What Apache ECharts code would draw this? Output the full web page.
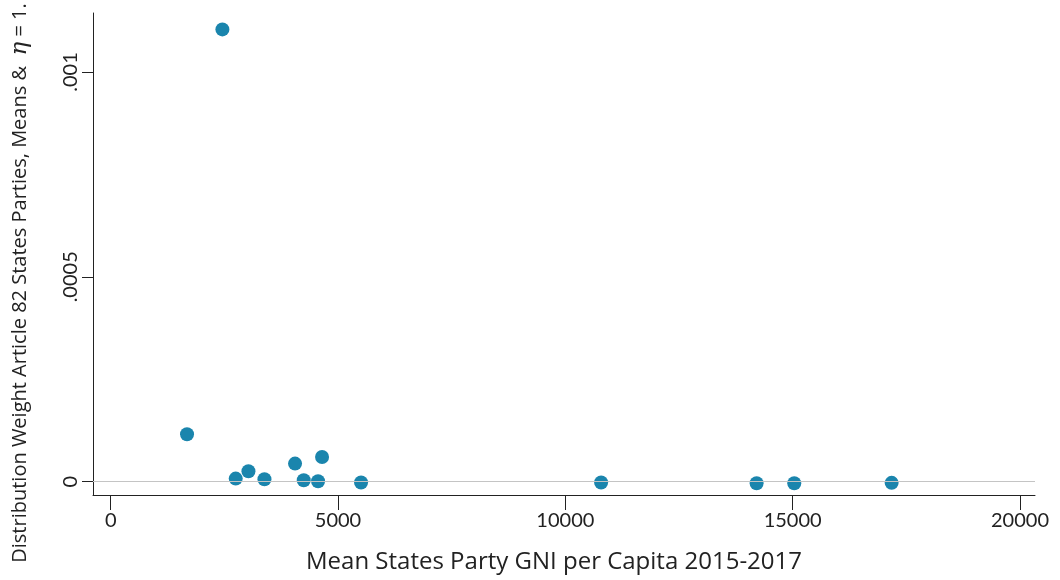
<!DOCTYPE html>
<html>
<head>
<meta charset="utf-8">
<script src="https://cdn.jsdelivr.net/npm/echarts@6/dist/echarts.min.js"></script>
<style>
html,body{margin:0;padding:0;background:#fff;}
#chart{width:1060px;height:580px;}
</style>
</head>
<body>
<div id="chart"></div>
<script>
// Mean States Party GNI per capita 2015-2017
const gniPerCapita = [2457, 1679, 2750, 3030, 3382, 4055, 4246, 4561, 4649, 5507, 10787, 14207, 15035, 17177];
// Distribution weight (Article 82 States Parties, means & eta = 1)
const distWeight = [0.001104, 0.0001156, 0.0000073, 0.0000252, 0.0000056, 0.000044, 0.0000032, 0.0000007, 0.0000601, -0.000002, -0.000002, -0.000004, -0.000004, -0.000003];
const xTicks = [0, 5000, 10000, 15000, 20000];
const yTicks = [0, 0.0005, 0.001];
const yTickLabels = ['0', '.0005', '.001'];
const xTitle = 'Mean States Party GNI per Capita 2015-2017';
const yTitle = 'Distribution Weight Article 82 States Parties, Means &  ';

const FONT = 'Lato, "Open Sans", "DejaVu Sans", sans-serif';
const TFONT = '"Open Sans", Lato, "DejaVu Sans", sans-serif';
const chart = echarts.init(document.getElementById('chart'), null, {renderer: 'canvas'});
const points = gniPerCapita.map((x, i) => [x, distWeight[i]]);

chart.setOption({
  animation: false,
  backgroundColor: '#fff',
  grid: {left: 93, right: 25, top: 13, bottom: 85, containLabel: false},
  xAxis: {
    type: 'value',
    min: -389, max: 20330,
    axisLine: {show: true, onZero: false, lineStyle: {color: '#222', width: 1}},
    axisTick: {show: true, length: 15, customValues: xTicks, lineStyle: {color: '#222', width: 1}},
    axisLabel: {show: true, customValues: xTicks, margin: 16, color: '#222', fontSize: 20, fontFamily: FONT,
      formatter: v => String(v)},
    splitLine: {show: false}
  },
  yAxis: {
    type: 'value',
    min: -0.0000327, max: 0.0011441,
    axisLine: {show: true, onZero: false, lineStyle: {color: '#222', width: 1}},
    axisTick: {show: true, length: 11, customValues: yTicks, lineStyle: {color: '#222', width: 1}},
    axisLabel: {show: true, customValues: yTicks, rotate: 90, margin: 12, color: '#222', fontSize: 20, fontFamily: FONT,
      formatter: v => { const i = yTicks.findIndex(t => Math.abs(t - v) < 1e-9); return i >= 0 ? yTickLabels[i] : ''; }},
    splitLine: {show: false}
  },
  series: [
    {
      type: 'scatter',
      data: [],
      z: 1,
      silent: true,
      markLine: {
        silent: true,
        symbol: 'none',
        label: {show: false},
        lineStyle: {color: '#c4c4c4', width: 1.2, type: 'solid'},
        data: yTicks.map(v => ({yAxis: v}))
      }
    },
    {
      type: 'scatter',
      z: 3,
      data: points,
      symbol: 'circle',
      symbolSize: 14,
      itemStyle: {color: '#1a85ad', opacity: 1}
    }
  ],
  graphic: [
    {
      type: 'text',
      x: 554, y: 562,
      style: {text: xTitle, font: '24px ' + TFONT, fill: '#222', align: 'center', verticalAlign: 'middle'}
    },
    {
      type: 'group',
      x: 20, y: 283,
      rotation: Math.PI / 2,
      children: [{
        type: 'text',
        style: {
          rich: {
            n: {font: '20px ' + TFONT, fill: '#222'},
            e: {font: 'italic 23px "DejaVu Serif", serif', fill: '#222'}
          },
          text: '{n|' + yTitle + '}{e|η}{n| = 1.}',
          align: 'center', verticalAlign: 'middle'
        }
      }]
    }
  ]
});
</script>
</body>
</html>
